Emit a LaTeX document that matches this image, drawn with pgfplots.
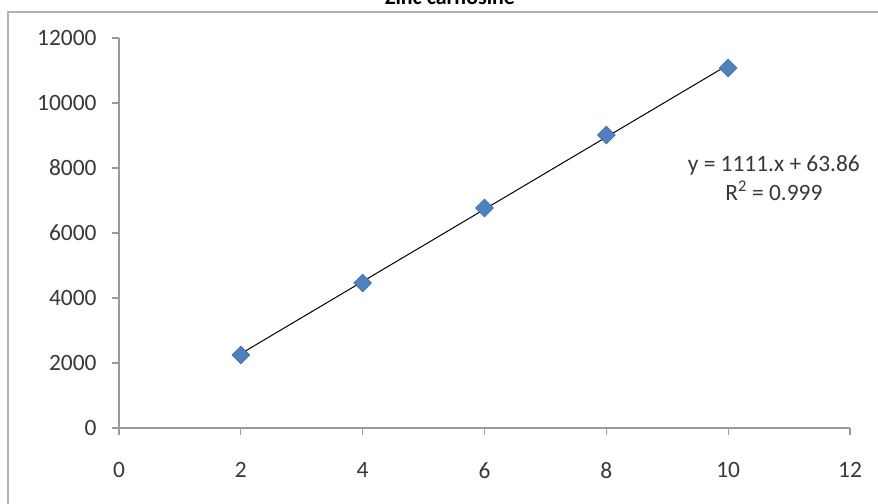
\documentclass[border=0pt]{standalone}
\usepackage{pgfplots}
\pgfplotsset{compat=1.18}
\usepackage{fontspec}
\setmainfont{Carlito}
\definecolor{mblue}{HTML}{4F81BD}
\definecolor{axgray}{HTML}{9A9A9A}
\definecolor{txt}{HTML}{383838}
\begin{document}
\begin{tikzpicture}[x=1bp,y=1bp]
\clip (0,0) rectangle (878,504);
\fill[white] (0,0) rectangle (878,504);
\draw[gray!60, line width=1.5bp] (8,0) -- (8,492) -- (878,492);
\node[font=\bfseries\fontsize{22}{24}\selectfont, anchor=base] at (450,499) {Zinc carnosine};
\begin{axis}[
  at={(119bp,76bp)}, anchor=south west,
  scale only axis, width=731bp, height=390bp,
  xmin=0, xmax=12, ymin=0, ymax=12000,
  xtick={0,2,...,12}, ytick={0,2000,...,12000},
  axis lines=left,
  axis line style={draw=axgray, line width=1.2bp, -},
  tick style={draw=axgray, line width=1.2bp},
  tick align=outside, major tick length=7bp,
  scaled ticks=false,
  /pgf/number format/1000 sep={},
  /pgf/number format/assume math mode=true,
  tick label style={font=\fontsize{23.5}{26}\selectfont, text=txt},
  yticklabel style={anchor=east, xshift=-12bp},
  xticklabel style={anchor=north, yshift=-24bp},
  clip=false,
]
\addplot[black, line width=1bp] coordinates {(2,2285.86) (10,11173.86)};
\addplot[only marks, mark=square*, mark size=6.3bp,
  mark options={rotate=45, fill=mblue, draw=mblue!80!black, line width=0.5bp}]
  coordinates {(2,2246) (4,4462) (6,6769) (8,9015) (10,11077)};
\node[font=\fontsize{23.5}{29}\selectfont, text=txt, align=center] at (axis cs:10.75,7690)
  {y = 1111.x + 63.86\\R\textsuperscript{2} = 0.999};
\end{axis}
\end{tikzpicture}
\end{document}
